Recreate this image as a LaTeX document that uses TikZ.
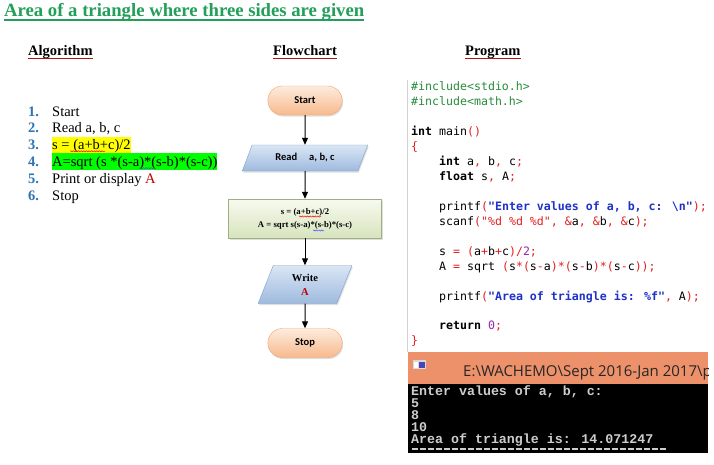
\documentclass[tikz,border=0pt]{standalone}
\usepackage{fontspec}
\setmainfont{Liberation Serif}
\newfontfamily\flowfont{Carlito}
\newfontfamily\codefont{DejaVu Sans Mono}
\newfontfamily\confont{Liberation Mono}
\newfontfamily\barfont{Open Sans}
\usetikzlibrary{arrows.meta,shapes.geometric,shapes.misc,shadows,decorations.pathmorphing}

\definecolor{titlegreen}{RGB}{34,160,90}
\definecolor{headred}{RGB}{170,20,20}
\definecolor{numblue}{RGB}{46,116,181}
\definecolor{itemred}{RGB}{192,0,0}
\definecolor{hlyellow}{RGB}{255,255,0}
\definecolor{hlgreen}{RGB}{0,255,0}
\definecolor{pillborder}{RGB}{240,165,115}
\definecolor{pilltop}{RGB}{253,236,222}
\definecolor{pillbot}{RGB}{247,185,140}
\definecolor{iotop}{RGB}{218,230,245}
\definecolor{iobot}{RGB}{158,186,222}
\definecolor{ioborder}{RGB}{125,160,205}
\definecolor{proctop}{RGB}{247,250,240}
\definecolor{procbot}{RGB}{215,228,189}
\definecolor{procborder}{RGB}{160,175,130}
\definecolor{codegreen}{RGB}{40,140,60}
\definecolor{codered}{RGB}{228,30,30}
\definecolor{codeblue}{RGB}{30,50,200}
\definecolor{codepurple}{RGB}{150,40,170}
\definecolor{barorange}{RGB}{236,145,105}
\definecolor{congrey}{RGB}{205,205,205}
\definecolor{sepgrey}{RGB}{210,210,210}

\newcommand{\codeOp}[1]{\textcolor{codered}{#1}}
\newcommand{\codeStr}[1]{\textcolor{codeblue}{\bfseries #1}}
\newcommand{\codeNum}[1]{\textcolor{codepurple}{#1}}

\begin{document}
\begin{tikzpicture}[x=1pt,y=-1pt,
  txt/.style={anchor=base west,inner sep=0pt},
  head/.style={txt,font=\bfseries\fontsize{14.5}{16}\selectfont},
  headline/.style={headred,line width=0.9pt},
  item/.style={txt,font=\fontsize{14.5}{16}\selectfont},
  num/.style={item,font=\bfseries\fontsize{14.5}{16}\selectfont,text=numblue},
  hl/.style={text height=13pt,text depth=3pt},
  squiggle/.style={decorate,decoration={snake,amplitude=0.6pt,segment length=2.6pt},line width=0.5pt},
  shade/.style={drop shadow={shadow xshift=1pt,shadow yshift=-1.5pt,opacity=0.25}},
  pill/.style={rounded rectangle,draw=pillborder,top color=pilltop,bottom color=pillbot,
    minimum width=81pt,minimum height=29pt,font=\flowfont\bfseries\fontsize{10.5}{12}\selectfont,shade},
  io/.style={trapezium,trapezium stretches=true,draw=ioborder,top color=iotop,bottom color=iobot,
    align=center,inner sep=1pt,shade},
  proc/.style={rectangle,draw=procborder,top color=proctop,bottom color=procbot,
    minimum width=153pt,minimum height=39pt,align=center,
    font=\bfseries\fontsize{8.7}{13}\selectfont,shade},
  flow/.style={line width=1pt,-{Triangle[length=7pt,width=6pt]}},
  code/.style={txt,font=\codefont\fontsize{11.6}{14}\selectfont},
  con/.style={txt,font=\confont\bfseries\fontsize{13.3}{12}\selectfont,text=congrey}
]
\pgfmathsetmacro{\codeTop}{90.7}
\pgfmathsetmacro{\codeSkip}{14.95}
\pgfmathsetmacro{\itemTop}{116}
\pgfmathsetmacro{\itemSkip}{16.9}
%
\fill[white] (0,0) rectangle (714,464);
\useasboundingbox (0,0) rectangle (714,464);
%
% title and headings
\node[txt,font=\bfseries\fontsize{18.7}{20}\selectfont,text=titlegreen] (title) at (4,16) {Area of a triangle where three sides are given};
\draw[titlegreen,line width=1.5pt] ([yshift=-4pt]title.base west)--([yshift=-4pt]title.base east);
\node[head] (alghead) at (28,55.5) {Algorithm};
\node[head] (flowhead) at (273,55.5) {Flowchart};
\node[head] (proghead) at (465,55.5) {Program};
\foreach \h in {alghead,flowhead,proghead}
  \draw[headline] ([yshift=-2.8pt]\h.base west)--([yshift=-2.8pt]\h.base east);
%
% algorithm
\foreach \i in {1,...,6}
  \node[num] (n\i) at (28,{\itemTop+(\i-1)*\itemSkip}) {\i.};
\node[item] (s1) at (52,{\itemTop}) {Start};
\node[item] (s2) at (52,{\itemTop+\itemSkip}) {Read a, b, c};
\node[item,hl,fill=hlyellow] (s3) at (52,{\itemTop+2*\itemSkip}) {s = (a+b+c)/2};
\node[item,hl,text height=13.5pt,fill=hlgreen] (s4) at (52,{\itemTop+3*\itemSkip}) {A=sqrt (s *(s-a)*(s-b)*(s-c))};
\node[item] (s5) at (52,{\itemTop+4*\itemSkip}) {Print or display \textcolor{itemred}{A}};
\node[item] (s6) at (52,{\itemTop+5*\itemSkip}) {Stop};
\draw[squiggle,red] ([xshift=18pt,yshift=-1.5pt]s3.base west)--++(35,0);
\draw[squiggle,blue!70] ([xshift=88pt,yshift=-1.5pt]s4.base west)--++(14,0);
%
% flowchart
\node[pill] (start) at (305,100.5) {Start};
\node[io,trapezium left angle=62,trapezium right angle=118,minimum width=126pt,minimum height=26pt,
  font=\flowfont\bfseries\fontsize{10.5}{12}\selectfont] (read) at (305,158) {Read\hspace{12pt}a, b, c};
\node[proc] (calc) at (305,218.5) {s = (a+b+c)/2\\A = sqrt s(s-a)*(s-b)*(s-c)};
\node[io,trapezium left angle=74,trapezium right angle=106,minimum width=94pt,minimum height=38pt,
  font=\bfseries\fontsize{10.5}{14}\selectfont] (write) at (305,284.5) {Write\\\textcolor{itemred}{A}};
\node[pill] (stop) at (305,343) {Stop};
\draw[flow] (start)--(read);
\draw[flow] (read)--(calc);
\draw[flow] (calc)--(write);
\draw[flow] (write)--(stop);
\draw[squiggle,red] ([xshift=-6pt,yshift=2pt]calc.center)--++(22,0);
\draw[squiggle,blue!70] ([xshift=8pt,yshift=-12pt]calc.center)--++(11,0);
%
% program
\draw[sepgrey,line width=1pt] (407.5,80)--(407.5,352);
\node[code] (c1) at (411,{\codeTop}) {\textcolor{codegreen}{\#include<stdio.h>}};
\node[code] (c2) at (411,{\codeTop+\codeSkip}) {\textcolor{codegreen}{\#include<math.h>}};
\node[code] (c4) at (411,{\codeTop+3*\codeSkip}) {\textbf{int} main\codeOp{()}};
\node[code] (c5) at (411,{\codeTop+4*\codeSkip}) {\codeOp{\{}};
\node[code] (c6) at (439,{\codeTop+5*\codeSkip}) {\textbf{int} a\codeOp{,} b\codeOp{,} c\codeOp{;}};
\node[code] (c7) at (439,{\codeTop+6*\codeSkip}) {\textbf{float} s\codeOp{,} A\codeOp{;}};
\node[code] (c9) at (439,{\codeTop+8*\codeSkip}) {printf\codeOp{(}\codeStr{"Enter values of a, b, c: \textbackslash n"}\codeOp{);}};
\node[code] (c10) at (439,{\codeTop+9*\codeSkip}) {scanf\codeOp{("\%d \%d \%d", \&}a\codeOp{, \&}b\codeOp{, \&}c\codeOp{);}};
\node[code] (c12) at (439,{\codeTop+11*\codeSkip}) {s \codeOp{= (}a\codeOp{+}b\codeOp{+}c\codeOp{)/}\codeNum{2}\codeOp{;}};
\node[code] (c13) at (439,{\codeTop+12*\codeSkip}) {A \codeOp{=} sqrt \codeOp{(}s\codeOp{*(}s\codeOp{-}a\codeOp{)*(}s\codeOp{-}b\codeOp{)*(}s\codeOp{-}c\codeOp{));}};
\node[code] (c15) at (439,{\codeTop+14*\codeSkip}) {printf\codeOp{(}\codeStr{"Area of triangle is: \%f"}\codeOp{,} A\codeOp{);}};
\node[code] (c17) at (439,{\codeTop+16*\codeSkip}) {\textbf{return} \codeNum{0}\codeOp{;}};
\node[code] (c18) at (411,{\codeTop+17*\codeSkip}) {\codeOp{\}}};
%
% console window
\begin{scope}
\clip (408,352) rectangle (708,453);
\fill[barorange] (408,352) rectangle (708,384);
\fill[black] (408,384) rectangle (708,453);
\fill[gray!30] (413,360) rectangle (426,369);
\fill[blue!45!gray] (419,362) rectangle (425,368);
\fill[white] (414,362) rectangle (418,368);
\node[txt,font=\barfont\fontsize{15}{17}\selectfont,text=black!85] (bartitle) at (463,376) {E:\textbackslash WACHEMO\textbackslash Sept 2016-Jan 2017\textbackslash p};
\node[con] (o1) at (411,395) {Enter values of a, b, c:};
\node[con] (o2) at (411,407) {5};
\node[con] (o3) at (411,419) {8};
\node[con] (o4) at (411,431) {10};
\node[con] (o5) at (411,443) {Area of triangle is: 14.071247};
\draw[congrey,line width=1.3pt,dash pattern=on 6.5pt off 1.5pt] ([yshift=-6pt,xshift=0.5pt]o5.base west)--++(256,0);
\end{scope}
\end{tikzpicture}
\end{document}
